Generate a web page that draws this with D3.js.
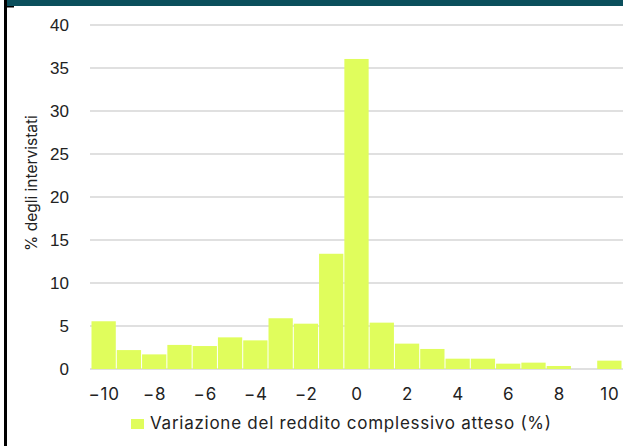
<!DOCTYPE html>
<html><head><meta charset="utf-8">
<script src="https://cdn.jsdelivr.net/npm/d3@7"></script>
<style>html,body{margin:0;padding:0;background:#fff;}svg{display:block;}</style>
</head><body>
<svg id="c" width="623" height="446"></svg>
<script>
const bins = [-10,-9,-8,-7,-6,-5,-4,-3,-2,-1,0,1,2,3,4,5,6,7,8,9,10];
const values = [5.55,2.2,1.7,2.8,2.67,3.68,3.33,5.9,5.27,13.4,36.05,5.39,2.95,2.33,1.2,1.2,0.62,0.74,0.35,0,0.97];
const xTicks = [-10,-8,-6,-4,-2,0,2,4,6,8,10];
const yTicks = [0,5,10,15,20,25,30,35,40];
const legendLabel = "Variazione del reddito complessivo atteso (%)";
const yTitle = "% degli intervistati";

const svg = d3.select("#c");
const x = d3.scaleLinear().domain([-10.5, 10.5]).range([91, 622]);
const y = d3.scaleLinear().domain([0, 40]).range([369, 25]);
const geo = "Inter, 'Open Sans', sans-serif";
const barColor = "#e0fd5c";

// header band & left border
svg.append("rect").attr("x",5).attr("y",0).attr("width",618).attr("height",6).attr("fill","#0b4f5c");
svg.append("rect").attr("x",4).attr("y",0).attr("width",3).attr("height",446).attr("fill","#000");
svg.append("rect").attr("x",4).attr("y",6).attr("width",10).attr("height",1.5).attr("fill","#000");

// gridlines
svg.append("g").selectAll("line").data(yTicks).join("line")
  .attr("x1",90).attr("x2",623)
  .attr("y1",d=>y(d)).attr("y2",d=>y(d))
  .attr("stroke","#d6d6d6").attr("stroke-width",1.5);

// y axis labels
const yAxis = d3.axisLeft(y).tickValues(yTicks).tickSize(0).tickPadding(0);
const gy = svg.append("g").attr("transform","translate(69,0)").call(yAxis);
gy.select(".domain").remove();
gy.selectAll("text").attr("font-family","'Liberation Sans', Arial, sans-serif").attr("font-size",17).attr("fill","#222");

// bars
svg.append("g").selectAll("rect").data(bins.map((b,i)=>({b,v:values[i]}))).join("rect")
  .attr("x",d=>x(d.b-0.5)+0.5)
  .attr("width",d=>x(d.b+0.5)-x(d.b-0.5)-1)
  .attr("y",d=>y(d.v))
  .attr("height",d=>y(0)-y(d.v))
  .attr("fill",barColor);

// x axis labels
const xAxis = d3.axisBottom(x).tickValues(xTicks).tickSize(0).tickPadding(0)
  .tickFormat(d=>d3.format("")(d).replace("-", "\u2212"));
const gx = svg.append("g").attr("transform","translate(0,388)").call(xAxis);
gx.select(".domain").remove();
gx.selectAll("text").attr("font-family",geo).attr("font-size",17).attr("letter-spacing","0.8px")
  .attr("fill","#222").attr("dy","0.71em");

// y title
svg.append("text").attr("transform","translate(37,183) rotate(-90)")
  .attr("text-anchor","middle").attr("font-family",geo).attr("font-size",15.5).attr("fill","#222")
  .text(yTitle);

// legend
svg.append("rect").attr("x",131).attr("y",419).attr("width",13).attr("height",10).attr("fill",barColor);
svg.append("text").attr("x",150).attr("y",429).attr("font-family",geo).attr("font-size",17)
  .attr("textLength",401).attr("lengthAdjust","spacing").attr("fill","#222")
  .text(legendLabel);
</script>
</body></html>
